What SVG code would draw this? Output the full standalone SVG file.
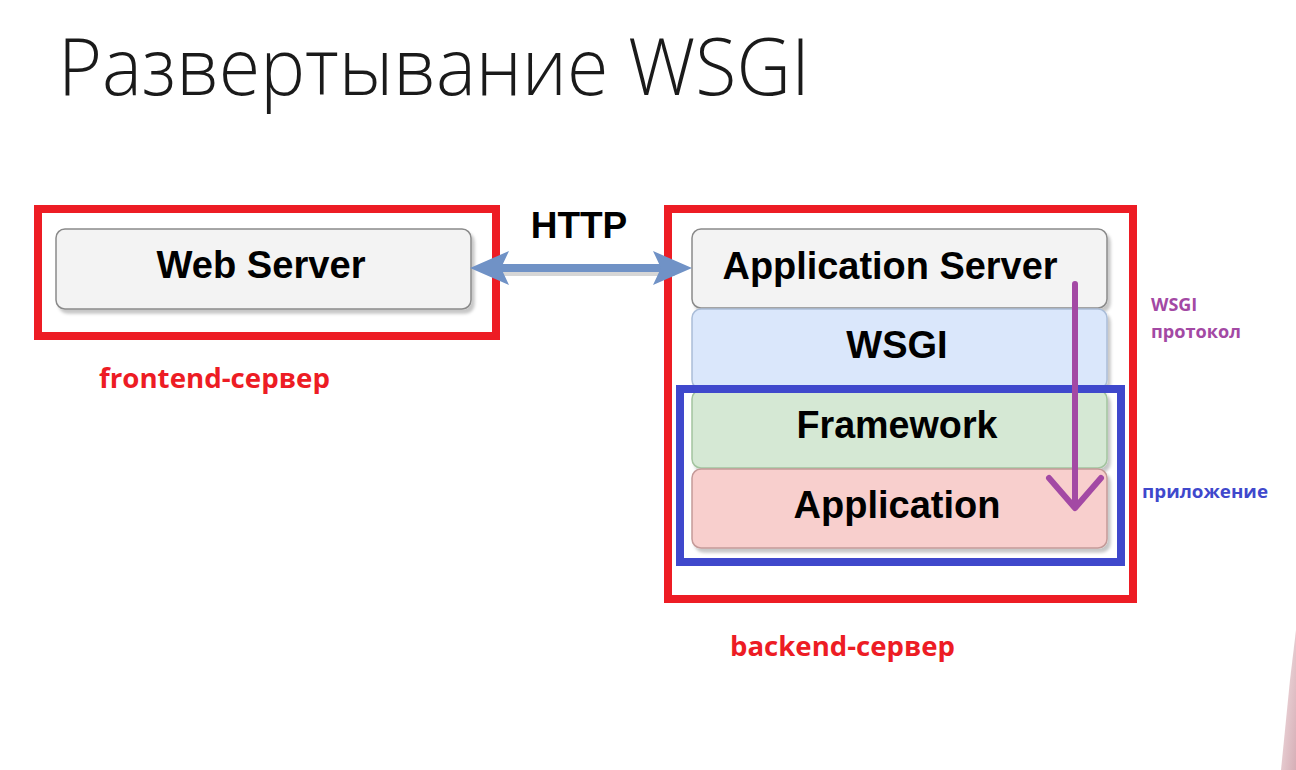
<svg xmlns="http://www.w3.org/2000/svg" width="1296" height="770" viewBox="0 0 1296 770">
  <defs>
    <filter id="shadow" x="-5%" y="-10%" width="115%" height="130%">
      <feDropShadow dx="3" dy="4" stdDeviation="1.5" flood-color="#000" flood-opacity="0.22"/>
    </filter>
    <linearGradient id="skin" x1="0" y1="0" x2="1" y2="1">
      <stop offset="0" stop-color="#f4e4e6"/>
      <stop offset="1" stop-color="#d6aeb6"/>
    </linearGradient>
    <style>
      .box { stroke-width: 1.5; filter: url(#shadow); }
      .lbl { font-family: "Liberation Sans", Arial, sans-serif; font-weight: 700; font-size: 38px; fill: #000; text-anchor: middle; }
      .frame { fill: none; stroke-width: 8; }
      .red { stroke: #ed1c24; }
      .blue { stroke: #3f48cc; }
      .note { font-family: "Open Sans", "Noto Sans", sans-serif; font-weight: 700; }
    </style>
  </defs>

  <rect width="1296" height="770" fill="#ffffff"/>

  <!-- title -->
  <text x="58" y="95" font-family="'Open Sans', 'Noto Sans', sans-serif" font-weight="300" font-size="80" fill="#1a1a1a" textLength="752" lengthAdjust="spacingAndGlyphs">Развертывание WSGI</text>

  <!-- frontend -->
  <g id="frontend">
    <rect class="frame red" x="38" y="209" width="458" height="127"/>
    <g id="web-server">
      <rect class="box" x="56" y="229" width="415" height="80" rx="9" fill="#f3f3f3" stroke="#8a8a8a"/>
      <text class="lbl" x="261" y="278" textLength="209" lengthAdjust="spacingAndGlyphs">Web Server</text>
    </g>
    <text class="note" x="99" y="388" font-size="26" fill="#ed1c24" textLength="231" lengthAdjust="spacingAndGlyphs">frontend-сервер</text>
  </g>

  <!-- backend stack -->
  <g id="backend">
    <g id="application-server">
      <rect class="box" x="692" y="229" width="415" height="79" rx="9" fill="#f3f3f3" stroke="#8a8a8a"/>
      <text class="lbl" x="890" y="279" textLength="335" lengthAdjust="spacingAndGlyphs">Application Server</text>
    </g>
    <g id="wsgi">
      <rect class="box" x="692" y="309" width="415" height="80" rx="9" fill="#dae7fb" stroke="#aabdd8"/>
      <text class="lbl" x="897" y="358">WSGI</text>
    </g>
    <g id="framework">
      <rect class="box" x="692" y="390" width="415" height="78" rx="9" fill="#d5e8d4" stroke="#a3c49f"/>
      <text class="lbl" x="897" y="438" textLength="201" lengthAdjust="spacingAndGlyphs">Framework</text>
    </g>
    <g id="application">
      <rect class="box" x="692" y="469" width="415" height="79" rx="9" fill="#f8cfcd" stroke="#c49a98"/>
      <text class="lbl" x="897" y="518">Application</text>
    </g>
    <rect class="frame red" x="668" y="209" width="465" height="390"/>
    <rect class="frame blue" x="680" y="389" width="441" height="173"/>
    <text class="note" x="730" y="656" font-size="26" fill="#ed1c24" textLength="225" lengthAdjust="spacingAndGlyphs">backend-сервер</text>
    <text class="note" x="1142" y="498" font-size="18" fill="#3f48cc" textLength="126" lengthAdjust="spacingAndGlyphs">приложение</text>
    <text class="note" x="1151" y="311" font-size="18" fill="#a349a4">WSGI</text>
    <text class="note" x="1151" y="338" font-size="18" fill="#a349a4" textLength="90" lengthAdjust="spacingAndGlyphs">протокол</text>
  </g>

  <!-- connectors -->
  <g id="connectors">
    <text x="579" y="238" font-family="'Liberation Sans', Arial, sans-serif" font-weight="700" font-size="37" text-anchor="middle" fill="#000">HTTP</text>
    <g id="http-arrow" fill="#7092c6">
      <rect x="500" y="271" width="175" height="5" fill="#d6d6d6"/>
      <rect x="498" y="264" width="176" height="8"/>
      <polygon points="470,268 509,251 501,268 509,285"/>
      <polygon points="692,268 653,251 661,268 653,285"/>
    </g>
    <g id="wsgi-flow" fill="none" stroke="#a349a4" stroke-width="6" stroke-linecap="round" stroke-linejoin="round">
      <line x1="1075" y1="284" x2="1075" y2="506"/>
      <polyline points="1049,478 1075,508 1101,478"/>
    </g>
  </g>

  <!-- edge of figure at lower right -->
  <polygon points="1296,630 1290,680 1281,770 1296,770" fill="url(#skin)"/>
</svg>
